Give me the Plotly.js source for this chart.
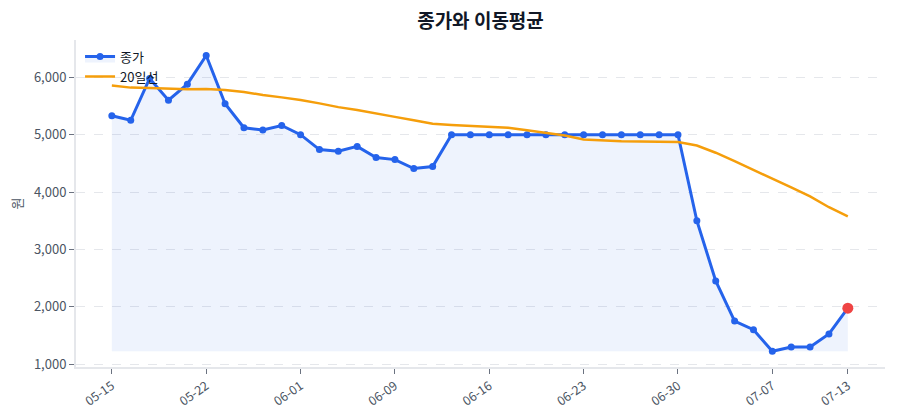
<!DOCTYPE html>
<html>
<head>
<meta charset="utf-8">
<script src="https://cdn.plot.ly/plotly-3.0.1.min.js"></script>
<style>html,body{margin:0;padding:0;background:#fff;}#chart{width:900px;height:420px;}</style>
</head>
<body>
<div id="chart"></div>
<script>
const dates = ["05-15","05-16","05-17","05-18","05-19","05-22","05-23","05-24","05-25","05-26",
  "06-01","06-02","06-05","06-07","06-08","06-09","06-12","06-13","06-14","06-15",
  "06-16","06-19","06-20","06-21","06-22","06-23","06-26","06-27","06-28","06-29",
  "06-30","07-03","07-04","07-05","07-06","07-07","07-10","07-11","07-12","07-13"];
const closePrice = [5330,5250,5980,5600,5880,6380,5540,5120,5080,5160,
  5000,4740,4710,4795,4600,4565,4410,4445,5000,5000,
  5000,5000,5000,5000,5000,5000,5000,5000,5000,5000,
  5000,3500,2450,1750,1600,1225,1300,1300,1525,1975];
const ma20 = [5855,5820,5815,5800,5790,5795,5780,5745,5690,5650,
  5605,5545,5480,5430,5375,5310,5250,5190,5170,5155,
  5140,5120,5075,5035,4985,4915,4895,4885,4880,4875,
  4870,4810,4685,4540,4390,4230,4080,3925,3735,3575];
const tickDates = ["05-15","05-22","06-01","06-09","06-16","06-23","06-30","07-07","07-13"];
const yTicks = [1000,2000,3000,4000,5000,6000];

const minClose = Math.min(...closePrice);
const font = "Noto Sans CJK KR, Noto Sans, sans-serif";

const traces = [
  {x: dates, y: dates.map(() => minClose), type: 'scatter', mode: 'lines',
   line: {width: 0, color: 'rgba(0,0,0,0)'}, showlegend: false, hoverinfo: 'skip'},
  {x: dates, y: closePrice, type: 'scatter', mode: 'lines+markers', name: '종가',
   fill: 'tonexty', fillcolor: 'rgba(37,99,235,0.08)',
   line: {color: '#2563eb', width: 3}, marker: {color: '#2563eb', size: 7}},
  {x: dates, y: ma20, type: 'scatter', mode: 'lines', name: '20일선',
   line: {color: '#f59e0b', width: 2.5}},
  {x: [dates[dates.length-1]], y: [closePrice[closePrice.length-1]], type: 'scatter', mode: 'markers',
   marker: {color: '#ef4444', size: 11}, showlegend: false}
];

const layout = {
  width: 900, height: 420,
  margin: {l: 76, r: 15, t: 40, b: 53},
  paper_bgcolor: '#fff', plot_bgcolor: '#fff',
  font: {family: font, size: 12, color: '#4b5563'},
  title: {text: '<b>종가와 이동평균</b>', x: 0.5, xref: 'paper', xanchor: 'center',
          y: 0.948, yref: 'container', yanchor: 'middle',
          font: {family: font, size: 19, color: '#111827'}},
  showlegend: true,
  legend: {x: 0.005, y: 0.995, xanchor: 'left', yanchor: 'top', bgcolor: 'rgba(0,0,0,0)',
           traceorder: 'normal',
           font: {family: font, size: 13, color: '#111827'}},
  xaxis: {type: 'category', range: [-1.9, 40.97], tickmode: 'array', tickvals: tickDates, ticktext: tickDates,
          tickangle: -35, ticks: 'outside', ticklen: 5, tickcolor: '#6b7280',
          showgrid: false, showline: true, linecolor: '#e5e7eb', linewidth: 2,
          tickfont: {family: font, size: 12.5, color: '#4b5563'}, zeroline: false},
  yaxis: {range: [950, 6650], tickmode: 'array', tickvals: yTicks, tickformat: ',d',
          ticks: 'outside', ticklen: 5, tickcolor: '#6b7280',
          showgrid: true, gridcolor: '#e5e7eb', griddash: 'dash', gridwidth: 1,
          showline: true, linecolor: '#e5e7eb', linewidth: 2, zeroline: false,
          title: {text: '원', font: {family: font, size: 13, color: '#4b5563'}, standoff: 8},
          tickfont: {family: font, size: 13, color: '#4b5563'}}
};

Plotly.newPlot('chart', traces, layout, {displayModeBar: false, responsive: false});
</script>
</body>
</html>
